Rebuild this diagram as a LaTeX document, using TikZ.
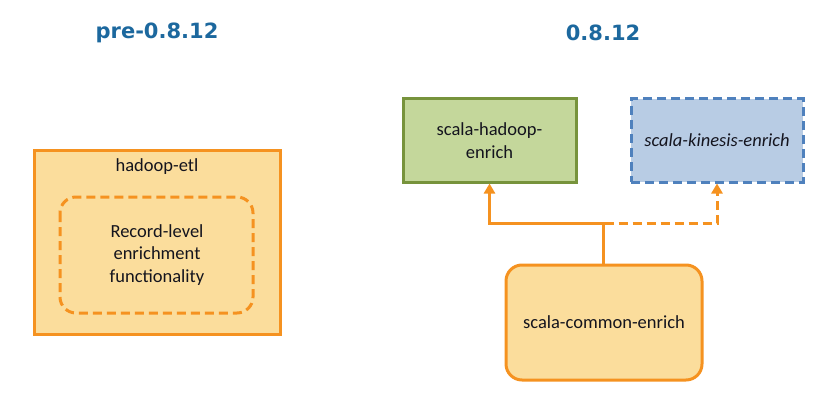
\documentclass[tikz,border=0pt]{standalone}
\usepackage{fontspec}
\setmainfont{Carlito}
\newfontfamily\titlefont{DejaVu Sans}
\usetikzlibrary{arrows.meta}
\definecolor{titleblue}{RGB}{28,104,158}
\definecolor{orfill}{RGB}{251,221,156}
\definecolor{ordraw}{RGB}{245,146,32}
\definecolor{grfill}{RGB}{196,215,155}
\definecolor{grdraw}{RGB}{119,147,60}
\definecolor{blfill}{RGB}{184,204,228}
\definecolor{bldraw}{RGB}{79,129,189}
\definecolor{txt}{RGB}{20,20,30}
\tikzset{
  ttl/.style={font=\titlefont\bfseries\fontsize{21}{25}\selectfont, text=titleblue},
  lbl/.style={font=\fontsize{18.5}{22.5}\selectfont, text=txt, align=center},
  orbox/.style={draw=ordraw, fill=orfill, line width=3pt},
  conn/.style={draw=ordraw, line width=3pt, -{Triangle[length=10pt,width=11pt]}},
  dsh/.style={dash pattern=on 9pt off 5pt}
}
\begin{document}
\begin{tikzpicture}[x=1pt,y=-1pt]
\useasboundingbox (0,0) rectangle (834,409);
% titles
\node[ttl] (t1) at (157,33) {pre-0.8.12};
\node[ttl] (t2) at (603,33) {0.8.12};
% left
\path[orbox] (34,150) rectangle (280,334);
\node[lbl] (etl) at (157,167) {hadoop-etl};
\draw[draw=ordraw, line width=3pt, dsh, rounded corners=16pt] (60,197) rectangle (253,313);
\node[lbl] (rec) at (157,255) {Record-level\\enrichment\\functionality};
% right boxes
\node[lbl, draw=grdraw, fill=grfill, line width=3pt, minimum width=173pt, minimum height=83pt, inner sep=0pt] (had) at (489.5,140.5) {scala-hadoop-\\enrich};
\node[lbl, draw=bldraw, fill=blfill, line width=3pt, dsh, minimum width=172pt, minimum height=83pt, inner sep=0pt, font=\itshape\fontsize{18.5}{22.5}\selectfont] (kin) at (717,140.5) {scala-kinesis-enrich};
\node[lbl, orbox, rounded corners=16pt, minimum width=196pt, minimum height=115pt, inner sep=0pt] (com) at (604,322.5) {scala-common-enrich};
\coordinate (j) at (603,223);
% connectors
\draw[conn, dsh] (com.north -| j) |- (j) -| (kin.south);
\draw[conn] (com.north -| j) |- (j) -| (had.south);
\end{tikzpicture}
\end{document}
